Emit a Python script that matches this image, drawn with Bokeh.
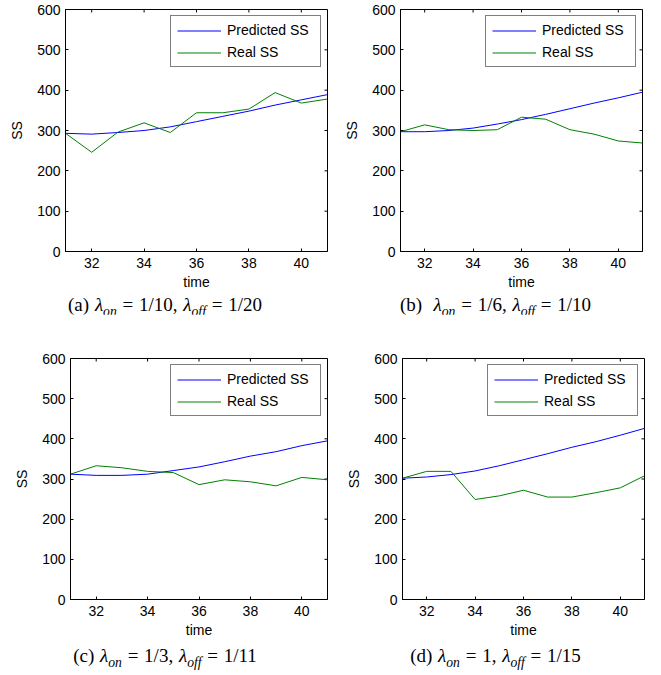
from bokeh.plotting import figure
from bokeh.models import Range1d, FixedTicker, Div, Legend, LegendItem
from bokeh.layouts import column, row
from bokeh.embed import file_html
from bokeh.resources import INLINE

# ---------------- data ----------------
time = [31, 32, 33, 34, 35, 36, 37, 38, 39, 40, 41]

pred_a = [293, 291, 295, 300, 309, 322, 335, 348, 363, 376, 389]
real_a = [293, 246, 296, 319, 295, 344, 344, 353, 394, 368, 378]

pred_b = [297, 297, 300, 306, 316, 327, 340, 354, 368, 381, 395]
real_b = [297, 314, 302, 300, 302, 333, 328, 302, 291, 274, 269]

pred_c = [312, 309, 309, 312, 321, 330, 343, 357, 368, 383, 395]
real_c = [312, 333, 328, 319, 316, 286, 298, 293, 283, 304, 298]

pred_d = [302, 305, 311, 320, 333, 348, 363, 379, 393, 409, 426]
real_d = [302, 319, 319, 249, 258, 272, 255, 255, 266, 278, 308]

x_ticks = [32, 34, 36, 38, 40]
y_ticks = [0, 100, 200, 300, 400, 500, 600]
x_lim = (31, 41)
y_lim = (0, 600)
series_names = ["Predicted SS", "Real SS"]

captions = [
    "(a) <i>λ</i><span class='s'><i>on</i></span> = 1/10, <i>λ</i><span class='s'><i>off</i></span> = 1/20",
    "(b)&nbsp; <i>λ</i><span class='s'><i>on</i></span> = 1/6, <i>λ</i><span class='s'><i>off</i></span> = 1/10",
    "(c) <i>λ</i><span class='s'><i>on</i></span> = 1/3, <i>λ</i><span class='s'><i>off</i></span> = 1/11",
    "(d) <i>λ</i><span class='s'><i>on</i></span> = 1, <i>λ</i><span class='s'><i>off</i></span> = 1/15",
]

FONT = "Liberation Sans"
BLUE = "#0000FF"
GREEN = "#008000"
TICK_LEN = 3  # px


def make_panel(pred, real, width, height, left, right, top, bottom):
    p = figure(width=width, height=height, output_backend="svg", toolbar_location=None,
               x_range=Range1d(*x_lim), y_range=Range1d(*y_lim),
               min_border_left=left, min_border_right=right,
               min_border_top=top, min_border_bottom=bottom,
               background_fill_color="white", border_fill_color="white")
    p.xgrid.visible = False
    p.ygrid.visible = False
    p.outline_line_color = "black"
    p.outline_line_width = 1

    for ax, ticks in ((p.xaxis[0], x_ticks), (p.yaxis[0], y_ticks)):
        ax.ticker = FixedTicker(ticks=ticks)
        ax.major_tick_in = TICK_LEN
        ax.major_tick_out = 0
        ax.minor_tick_line_color = None
        ax.axis_line_color = "black"
        ax.major_tick_line_color = "black"
        ax.major_label_text_font = FONT
        ax.major_label_text_font_size = "14px"
        ax.major_label_text_color = "black"
        ax.axis_label_text_font = FONT
        ax.axis_label_text_font_size = "14px"
        ax.axis_label_text_font_style = "normal"
        ax.axis_label_text_color = "black"
    p.xaxis[0].axis_label = "time"
    p.yaxis[0].axis_label = "SS"
    p.xaxis[0].major_label_standoff = 6
    p.xaxis[0].axis_label_standoff = 3
    p.yaxis[0].major_label_standoff = 5
    p.yaxis[0].axis_label_standoff = 9

    # mirrored inward tick marks on the top and right edges (MATLAB box style)
    fw = width - left - right
    fh = height - top - bottom
    dy = (y_lim[1] - y_lim[0]) * TICK_LEN / fh
    dx = (x_lim[1] - x_lim[0]) * TICK_LEN / fw
    p.segment(x0=x_ticks, x1=x_ticks, y0=[y_lim[1]] * len(x_ticks),
              y1=[y_lim[1] - dy] * len(x_ticks), line_color="black", line_width=1)
    p.segment(x0=[x_lim[1]] * len(y_ticks), x1=[x_lim[1] - dx] * len(y_ticks),
              y0=y_ticks, y1=y_ticks, line_color="black", line_width=1)

    r1 = p.line(time, pred, line_color=BLUE, line_width=1)
    r2 = p.line(time, real, line_color=GREEN, line_width=1)

    leg = Legend(items=[LegendItem(label=series_names[0], renderers=[r1]),
                        LegendItem(label=series_names[1], renderers=[r2])],
                 location="top_right")
    leg.margin = 6
    leg.padding = 6
    leg.spacing = 6
    leg.glyph_width = 44
    leg.glyph_height = 15
    leg.label_height = 15
    leg.label_width = 87
    leg.label_standoff = 6
    leg.label_text_font = FONT
    leg.label_text_font_size = "14px"
    leg.label_text_color = "black"
    leg.border_line_color = "black"
    leg.border_line_width = 1
    leg.background_fill_color = "white"
    leg.background_fill_alpha = 1
    p.add_layout(leg)
    return p


def make_caption(html, width, height):
    style = ("<style>.s{font-size:0.72em;position:relative;top:0.35em;}</style>"
             f"<div style='width:{width}px;text-align:center;font-family:\"Liberation Serif\";"
             f"font-size:19px;line-height:{height}px;color:black;white-space:nowrap;"
             f"word-spacing:1px;'>{html}</div>")
    return Div(text=style, width=width, height=height, margin=0)


fa = make_panel(pred_a, real_a, 330, 296, 65, 3, 9, 45)
fb = make_panel(pred_b, real_b, 331, 296, 70, 19, 9, 45)
fc = make_panel(pred_c, real_c, 330, 330, 70, 3, 44, 45)
fd = make_panel(pred_d, real_d, 331, 330, 72, 17, 44, 45)

ca = make_caption(captions[0], 330, 18)
cb = make_caption(captions[1], 331, 18)
cc = make_caption(captions[2], 330, 24)
cd = make_caption(captions[3], 331, 24)

layout = column(row(fa, fb, spacing=0), row(ca, cb, spacing=0),
                row(fc, fd, spacing=0), row(cc, cd, spacing=0), spacing=0)

open("out.html", "w").write(file_html(layout, INLINE))
